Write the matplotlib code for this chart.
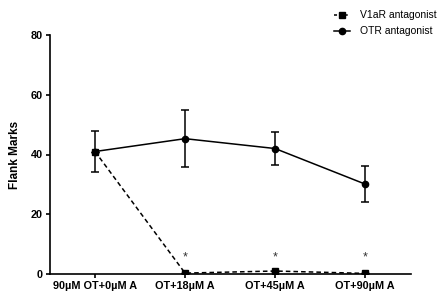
import matplotlib
matplotlib.use("Agg")

import matplotlib.pyplot as plt
from matplotlib.lines import Line2D

# Data
categories = ["90\u00b5M OT+0\u00b5M A", "OT+18\u00b5M A", "OT+45\u00b5M A", "OT+90\u00b5M A"]
otr_mean = [41.0, 45.3, 42.0, 30.1]
otr_err = [6.8, 9.6, 5.6, 6.1]
v1ar_mean = [41.0, 0.3, 1.0, 0.2]
v1ar_err = [0.0, 0.0, 0.0, 0.0]
star_positions = [1, 2, 3]
star_height = 5.5

plt.rcParams["font.family"] = ["Liberation Sans", "DejaVu Sans"]

fig = plt.figure(figsize=(4.39, 3.03), dpi=100)
ax = fig.add_axes([50 / 439, 29 / 303, 361 / 439, 239 / 303])

x = list(range(len(categories)))

ax.errorbar(x, otr_mean, yerr=otr_err, color="black", linestyle="-", linewidth=1.1,
            marker="o", markersize=4.5, capsize=3, elinewidth=1.1, capthick=1.1, zorder=3)
ax.errorbar(x, v1ar_mean, yerr=v1ar_err, color="black", linestyle=(0, (3, 2)), linewidth=1.1,
            marker="s", markersize=5, capsize=3, elinewidth=1.1, zorder=4)

for xs in star_positions:
    ax.text(xs, star_height, "*", ha="center", va="center", fontsize=9, color="#333333")

ax.set_xlim(-0.5, 3.51)
ax.set_ylim(0, 80)
ax.set_yticks([0, 20, 40, 60, 80])
ax.set_xticks(x)
ax.set_xticklabels(categories, fontsize=7.8, fontweight="bold")
for lbl in ax.get_yticklabels():
    lbl.set_fontsize(7.8)
    lbl.set_fontweight("bold")
ax.set_ylabel("Flank Marks", fontsize=8.5, fontweight="bold", labelpad=7)

ax.spines["top"].set_visible(False)
ax.spines["right"].set_visible(False)
ax.spines["left"].set_linewidth(1.2)
ax.spines["bottom"].set_linewidth(1.2)
ax.tick_params(axis="both", length=3, width=1.2, pad=2)

handles = [
    Line2D([], [], color="black", linestyle=(0, (2, 1.5)), linewidth=1.1, marker="s", markersize=5),
    Line2D([], [], color="black", linestyle="-", linewidth=1.1, marker="o", markersize=4.5),
]
labels = ["V1aR antagonist", "OTR antagonist"]
fig.legend(handles, labels, loc="upper left", bbox_to_anchor=(330 / 439, 1 - 6 / 303),
           frameon=False, fontsize=7.5, handlelength=1.5, handletextpad=1.0,
           labelspacing=0.6, borderaxespad=0)

plt.savefig("out.png", dpi=100)
plt.close()
